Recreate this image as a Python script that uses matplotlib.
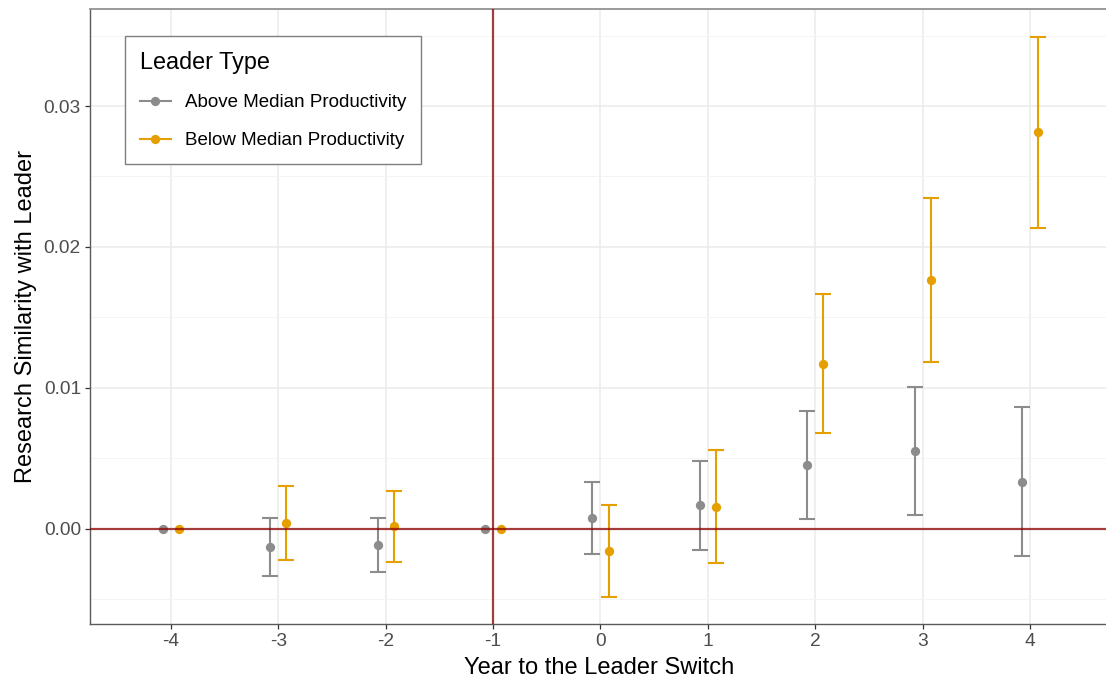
import numpy as np
import matplotlib
matplotlib.use("Agg")
import matplotlib.pyplot as plt
from matplotlib.lines import Line2D

plt.rcParams['font.family'] = ['Liberation Sans', 'DejaVu Sans']

# Event-study estimates by leader type
years = [-4, -3, -2, -1, 0, 1, 2, 3, 4]

above_est = [0.0, -0.00128, -0.00113, 0.0, 0.00078, 0.00168, 0.00454, 0.00553, 0.00336]
above_lo = [0.0, -0.00333, -0.00307, 0.0, -0.00177, -0.00149, 0.00073, 0.00099, -0.00189]
above_hi = [0.0, 0.00076, 0.00080, 0.0, 0.00336, 0.00485, 0.00837, 0.01009, 0.00865]

below_est = [0.0, 0.00040, 0.00019, 0.0, -0.00156, 0.00158, 0.01173, 0.01766, 0.02813]
below_lo = [0.0, -0.00222, -0.00236, 0.0, -0.00482, -0.00243, 0.00683, 0.01184, 0.02137]
below_hi = [0.0, 0.00303, 0.00270, 0.0, 0.00168, 0.00560, 0.01664, 0.02348, 0.03492]

series_names = ["Above Median Productivity", "Below Median Productivity"]
series_colors = ["#8c8c8c", "#e69f00"]

W, H = 1106, 681
fig = plt.figure(figsize=(W / 100, H / 100), dpi=100)
ax = fig.add_axes([90 / W, (H - 624) / H, 1018 / W, 615 / H])

dodge = 0.075
x = np.array(years, dtype=float)

for est, lo, hi, color, off in [
    (above_est, above_lo, above_hi, series_colors[0], -dodge),
    (below_est, below_lo, below_hi, series_colors[1], dodge),
]:
    est = np.array(est)
    lo = np.array(lo)
    hi = np.array(hi)
    has_ci = hi > lo
    ax.errorbar(x[has_ci] + off, est[has_ci],
                yerr=[est[has_ci] - lo[has_ci], hi[has_ci] - est[has_ci]],
                fmt='none', ecolor=color, elinewidth=1.5, capsize=5.6,
                capthick=1.5, zorder=3)
    ax.plot(x + off, est, 'o', color=color, markersize=6.7,
            markeredgewidth=0, zorder=4)

# Reference lines
ax.axhline(0, color='#8b0000', alpha=0.75, linewidth=1.6, zorder=5)
ax.axvline(-1, color='#8b0000', alpha=0.75, linewidth=1.6, zorder=5)

ax.set_xlim(-4.754, 4.727)
ax.set_ylim(-0.00674, 0.03688)

ax.set_xticks(years)
ax.set_xticklabels([str(v) for v in years])
ax.set_yticks([0.0, 0.01, 0.02, 0.03])
ax.set_yticklabels(["0.00", "0.01", "0.02", "0.03"])
ax.set_yticks([-0.005, 0.005, 0.015, 0.025, 0.035], minor=True)

ax.grid(True, which='major', color='#ebebeb', linewidth=1.1, zorder=0)
ax.grid(True, which='minor', axis='y', color='#f3f3f3', linewidth=0.6, zorder=0)
ax.set_axisbelow(True)

ax.tick_params(axis='both', which='major', length=3.5, width=0.9,
               color='#333333', labelcolor='#4d4d4d', labelsize=13.8, pad=3)
ax.tick_params(axis='both', which='minor', length=0)

for side in ['left', 'bottom', 'right']:
    ax.spines[side].set_color('#5a5a5a')
    ax.spines[side].set_linewidth(1.0)
ax.spines['top'].set_color('#9a9a9a')
ax.spines['top'].set_linewidth(1.4)

ax.set_xlabel("Year to the Leader Switch", fontsize=17, color='black', labelpad=5)
ax.set_ylabel("Research Similarity with Leader", fontsize=17, color='black', labelpad=5)

handles = [
    Line2D([0], [0], color=series_colors[0], marker='o', markersize=6.7,
           markeredgewidth=0, linewidth=1.5),
    Line2D([0], [0], color=series_colors[1], marker='o', markersize=6.7,
           markeredgewidth=0, linewidth=1.5),
]
leg = ax.legend(handles, series_names, title="Leader Type",
                loc='upper left', bbox_to_anchor=(125 / W, 1 - 36 / H),
                bbox_transform=fig.transFigure,
                frameon=True, fancybox=False, framealpha=1,
                edgecolor='#7f7f7f', fontsize=13.5, title_fontsize=16.8,
                handlelength=1.65, handletextpad=0.75, labelspacing=1.1,
                borderpad=0.78, borderaxespad=0, alignment='left')
leg.get_frame().set_linewidth(1.0)

fig.savefig("out.png", dpi=100)
